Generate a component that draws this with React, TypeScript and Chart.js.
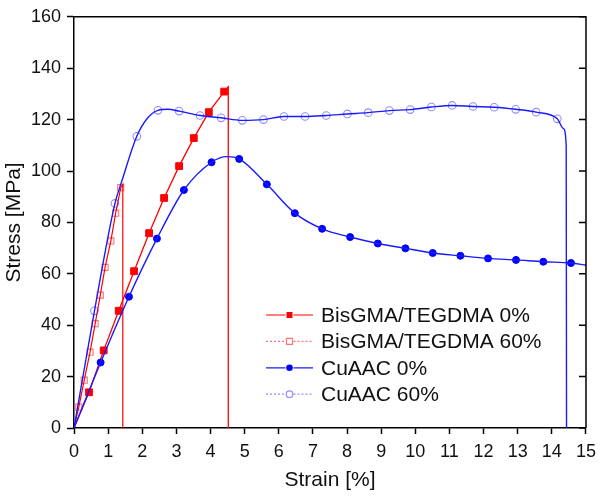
import React, { useEffect, useRef } from "react";
import { Chart, registerables } from "chart.js";

Chart.register(...registerables);

// ---------- Data (strain in %, stress in MPa) ----------
const seriesLabels = ["BisGMA/TEGDMA 0%", "BisGMA/TEGDMA 60%", "CuAAC 0%", "CuAAC 60%"];

// BisGMA/TEGDMA 0%
const bis0CurveStrain = [0, 0.44, 0.87, 1.31, 1.76, 2.2, 2.64, 3.08, 3.51, 3.95, 4.4, 4.52, 4.52];
const bis0CurveStress = [0, 13.9, 30.2, 45.6, 61.0, 75.8, 89.5, 101.9, 112.8, 122.9, 130.9, 132.8, 0];
const bis0MarkStrain = [0.44, 0.87, 1.31, 1.76, 2.2, 2.64, 3.08, 3.51, 3.95, 4.4];
const bis0MarkStress = [13.9, 30.2, 45.6, 61.0, 75.8, 89.5, 101.9, 112.8, 122.9, 130.9];

// BisGMA/TEGDMA 60%
const bis60CurveStrain = [0, 0.14, 0.3, 0.47, 0.62, 0.77, 0.91, 1.08, 1.22, 1.37, 1.43, 1.43];
const bis60CurveStress = [0, 8.1, 18.6, 29.5, 40.6, 51.7, 62.5, 72.8, 83.6, 93.5, 94.8, 0];
const bis60MarkStrain = [0.14, 0.3, 0.47, 0.62, 0.77, 0.91, 1.08, 1.22, 1.37];
const bis60MarkStress = [8.1, 18.6, 29.5, 40.6, 51.7, 62.5, 72.8, 83.6, 93.5];

// CuAAC 0%
const cu0CurveStrain = [0, 0.78, 1.61, 2.43, 3.22, 4.03, 4.47, 4.84, 5.65, 6.47, 7.27, 8.09, 8.9, 9.71, 10.51, 11.32, 12.13, 12.95, 13.75, 14.56, 15.0];
const cu0CurveStress = [0, 25.5, 51.1, 73.7, 92.6, 103.4, 105.6, 104.7, 94.8, 83.6, 77.5, 74.3, 71.8, 69.9, 68.1, 67.0, 66.0, 65.4, 64.7, 64.2, 63.4];
const cu0MarkStrain = [0.78, 1.61, 2.43, 3.22, 4.03, 4.84, 5.65, 6.47, 7.27, 8.09, 8.9, 9.71, 10.51, 11.32, 12.13, 12.95, 13.75, 14.56];
const cu0MarkStress = [25.5, 51.1, 73.7, 92.6, 103.4, 104.7, 94.8, 83.6, 77.5, 74.3, 71.8, 69.9, 68.1, 67.0, 66.0, 65.4, 64.7, 64.2];

// CuAAC 60%
const cu60CurveStrain = [0, 0.6, 1.2, 1.4, 1.84, 2.15, 2.46, 2.75, 3.08, 3.69, 4.31, 4.93, 5.55, 6.15, 6.77, 7.39, 8.01, 8.62, 9.24, 9.85, 10.47, 11.08, 11.69, 12.31, 12.94, 13.54, 14.16, 14.34, 14.42, 14.43];
const cu60CurveStress = [0, 45.6, 87.4, 96.0, 113.5, 120.5, 123.6, 124.0, 123.3, 121.6, 120.7, 119.7, 120.0, 121.2, 121.2, 121.6, 122.2, 122.7, 123.5, 123.9, 124.9, 125.5, 125.1, 124.8, 124.0, 122.9, 120.3, 116.5, 110.0, 0];
const cu60MarkStrain = [0.6, 1.2, 1.84, 2.46, 3.08, 3.69, 4.31, 4.93, 5.55, 6.15, 6.77, 7.39, 8.01, 8.62, 9.24, 9.85, 10.47, 11.08, 11.69, 12.31, 12.94, 13.54, 14.16];
const cu60MarkStress = [45.6, 87.4, 113.5, 123.6, 123.3, 121.6, 120.7, 119.7, 120.0, 121.2, 121.2, 121.6, 122.2, 122.7, 123.5, 123.9, 124.9, 125.5, 125.1, 124.8, 124.0, 122.9, 120.3];

const xTickValues = [0, 1, 2, 3, 4, 5, 6, 7, 8, 9, 10, 11, 12, 13, 14, 15];
const yTickValues = [0, 20, 40, 60, 80, 100, 120, 140, 160];

// ---------- Styles ----------
const RED = "#ff0000";
const RED_LIGHT = "rgba(255,0,0,0.55)";
const BLUE = "#1a1aff";
const BLUE_FILL = "#0000ff";
const BLUE_LIGHT = "rgba(30,30,255,0.5)";
const FONT = "'Liberation Sans', Arial, Helvetica, sans-serif";

const pts = (xs: number[], ys: number[]) => xs.map((x, i) => ({ x, y: ys[i] }));

const legendStyles = [
  { color: RED, dash: [] as number[], marker: "rect", fill: true, mcolor: RED },
  { color: RED_LIGHT, dash: [2, 2], marker: "rect", fill: false, mcolor: RED_LIGHT },
  { color: BLUE, dash: [] as number[], marker: "circle", fill: true, mcolor: BLUE_FILL },
  { color: BLUE_LIGHT, dash: [2, 2], marker: "circle", fill: false, mcolor: BLUE_LIGHT },
];

const framePlugin = {
  id: "frame",
  afterDraw(chart: any) {
    const { ctx, chartArea } = chart;
    const { left, right, top, bottom } = chartArea;
    const yScale = chart.scales.y;
    ctx.save();
    ctx.strokeStyle = "#000";
    ctx.lineWidth = 1.5;
    ctx.beginPath();
    ctx.moveTo(left, top);
    ctx.lineTo(right, top);
    ctx.lineTo(right, bottom);
    ctx.stroke();
    ctx.beginPath();
    yTickValues.forEach((v) => {
      const py = yScale.getPixelForValue(v);
      ctx.moveTo(right - 7, py);
      ctx.lineTo(right, py);
    });
    ctx.stroke();

    // legend
    const lx0 = 266, lx1 = 313, mx = 289.5, tx = 321;
    const y0 = 315, dy = 26.4;
    ctx.font = `21px ${FONT}`;
    ctx.textBaseline = "middle";
    ctx.textAlign = "left";
    seriesLabels.forEach((label, i) => {
      const s = legendStyles[i];
      const y = y0 + i * dy;
      ctx.strokeStyle = s.color;
      ctx.lineWidth = 1.2;
      ctx.setLineDash(s.dash);
      ctx.beginPath();
      ctx.moveTo(lx0, y);
      ctx.lineTo(mx - 4, y);
      ctx.moveTo(mx + 4, y);
      ctx.lineTo(lx1, y);
      ctx.stroke();
      ctx.setLineDash([]);
      ctx.beginPath();
      if (s.marker === "rect") ctx.rect(mx - 3, y - 3, 6, 6);
      else ctx.arc(mx, y, 3.3, 0, Math.PI * 2);
      if (s.fill) {
        ctx.fillStyle = s.mcolor;
        ctx.fill();
      } else {
        ctx.fillStyle = "#fff";
        ctx.fill();
        ctx.strokeStyle = s.mcolor;
        ctx.lineWidth = 1.2;
        ctx.stroke();
      }
      ctx.fillStyle = "#111";
      ctx.fillText(label, tx, y + 1);
    });
    ctx.restore();
  },
};

export default function App() {
  const ref = useRef<HTMLCanvasElement>(null);
  useEffect(() => {
    const canvas = ref.current;
    if (!canvas) return;
    const lineDs = (xs: number[], ys: number[], color: string, width: number, mono: boolean) => ({
      data: pts(xs, ys),
      showLine: true,
      borderColor: color,
      borderWidth: width,
      pointRadius: 0,
      fill: false,
      tension: 0,
      cubicInterpolationMode: mono ? "monotone" : "default",
    });
    const markDs = (xs: number[], ys: number[], style: string, r: number, fill: string, stroke: string, bw: number) => ({
      data: pts(xs, ys),
      showLine: false,
      pointStyle: style,
      pointRadius: r,
      pointBackgroundColor: fill,
      pointBorderColor: stroke,
      pointBorderWidth: bw,
    });
    const chart = new Chart(canvas, {
      type: "scatter",
      data: {
        datasets: [
          lineDs(cu60CurveStrain, cu60CurveStress, BLUE, 1.4, true),
          markDs(cu60MarkStrain, cu60MarkStress, "circle", 3.8, "rgba(255,255,255,0)", BLUE_LIGHT, 1.1),
          lineDs(cu0CurveStrain, cu0CurveStress, BLUE, 1.4, true),
          markDs(cu0MarkStrain, cu0MarkStress, "circle", 3.5, BLUE_FILL, BLUE_FILL, 1),
          lineDs(bis60CurveStrain, bis60CurveStress, RED, 1.2, false),
          markDs(bis60MarkStrain, bis60MarkStress, "rect", 4.3, "rgba(255,255,255,0)", RED_LIGHT, 1.1),
          lineDs(bis0CurveStrain, bis0CurveStress, RED, 1.3, false),
          markDs(bis0MarkStrain, bis0MarkStress, "rect", 4.8, RED, RED, 1),
        ] as any,
      },
      options: {
        responsive: false,
        animation: false,
        devicePixelRatio: 1,
        layout: { padding: { left: 0, top: 15, right: 17, bottom: 0 } },
        plugins: { legend: { display: false }, tooltip: { enabled: false } },
        scales: {
          x: {
            type: "linear",
            min: 0,
            max: 15,
            afterFit: (s: any) => { s.height = 72; },
            afterBuildTicks: (s: any) => { s.ticks = xTickValues.map((v) => ({ value: v })); },
            ticks: { color: "#111", font: { family: FONT, size: 18 }, padding: 7, maxRotation: 0 },
            grid: { display: true, drawOnChartArea: false, drawTicks: true, tickLength: 6, tickColor: "#000", tickWidth: 1.5 },
            border: { display: true, color: "#000", width: 1.5 },
            title: { display: true, text: "Strain [%]", color: "#111", font: { family: FONT, size: 21 }, padding: { top: 0, bottom: 7 } },
          },
          y: {
            type: "linear",
            min: 0,
            max: 160,
            afterFit: (s: any) => { s.width = 74; },
            afterBuildTicks: (s: any) => { s.ticks = yTickValues.map((v) => ({ value: v })); },
            ticks: { color: "#111", font: { family: FONT, size: 18 }, padding: 6 },
            grid: { display: true, drawOnChartArea: false, drawTicks: true, tickLength: 7, tickColor: "#000", tickWidth: 1.5 },
            border: { display: true, color: "#000", width: 1.5 },
            title: { display: true, text: "Stress [MPa]", color: "#111", font: { family: FONT, size: 21 }, padding: { top: 2, bottom: 0 } },
          },
        },
      } as any,
      plugins: [framePlugin],
    });
    return () => chart.destroy();
  }, []);
  return (
    <div style={{ position: "absolute", left: 0, top: 0, width: 603, height: 500, background: "#fff" }}>
      <canvas ref={ref} width={603} height={500} style={{ width: 603, height: 500, display: "block" }} />
    </div>
  );
}
